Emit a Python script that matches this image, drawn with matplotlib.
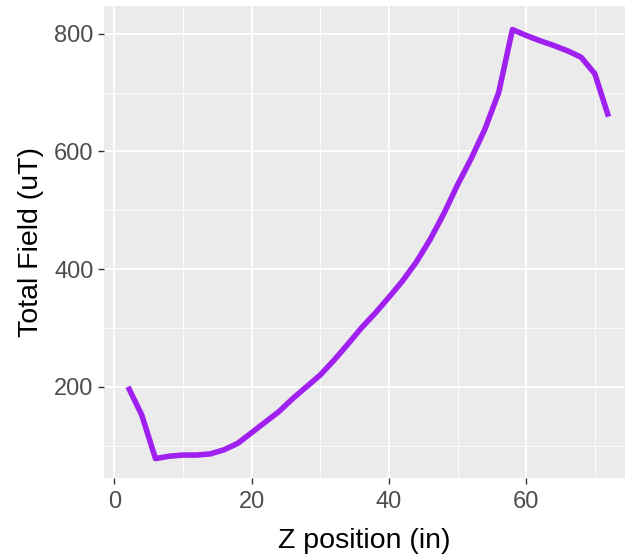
import matplotlib
matplotlib.use('Agg')
import matplotlib.pyplot as plt
import numpy as np

# Z position (in) and total field (uT)
z_pos = [2, 4, 6, 8, 10, 12, 14, 16, 18, 20, 22, 24, 26, 28, 30, 32, 34, 36,
         38, 40, 42, 44, 46, 48, 50, 52, 54, 56, 58, 60, 62, 64, 66, 68, 70, 72]
field = [200, 152, 78, 82, 84, 84, 86, 93, 104, 122, 140, 158, 180, 200, 220,
         245, 272, 300, 325, 352, 380, 412, 450, 494, 543, 588, 638, 700, 807,
         797, 788, 780, 771, 760, 732, 659]

x_ticks = [0, 20, 40, 60]
y_ticks = [200, 400, 600, 800]

plt.rcParams['font.family'] = ['Liberation Sans', 'DejaVu Sans']

fig = plt.figure(figsize=(6.25, 5.58), dpi=100)
ax = fig.add_axes([104 / 625, 1 - 478 / 558, 1 - 104 / 625, (478 - 6) / 558])

ax.set_facecolor('#EBEBEB')
for s in ax.spines.values():
    s.set_visible(False)

ax.set_xlim(-1.5, 74.4)
ax.set_ylim(45, 847)
ax.set_xticks(x_ticks)
ax.set_yticks(y_ticks)
ax.set_xticks([10, 30, 50, 70], minor=True)
ax.set_yticks([100, 300, 500, 700], minor=True)
ax.grid(True, which='major', color='white', linewidth=1.3)
ax.grid(True, which='minor', color='white', linewidth=0.6)
ax.set_axisbelow(True)

ax.tick_params(which='major', length=4, width=1, color='#333333',
               labelsize=17, labelcolor='#4D4D4D', pad=3.5)
ax.tick_params(axis='x', which='major', pad=5)
ax.tick_params(which='minor', length=0)

ax.plot(z_pos, field, color='#A020F0', linewidth=4, solid_capstyle='butt')

ax.set_xlabel('Z position (in)', fontsize=20.5, color='black', labelpad=11)
ax.set_ylabel('Total Field (uT)', fontsize=20.5, color='black', labelpad=7)

fig.savefig('out.png', dpi=100)
